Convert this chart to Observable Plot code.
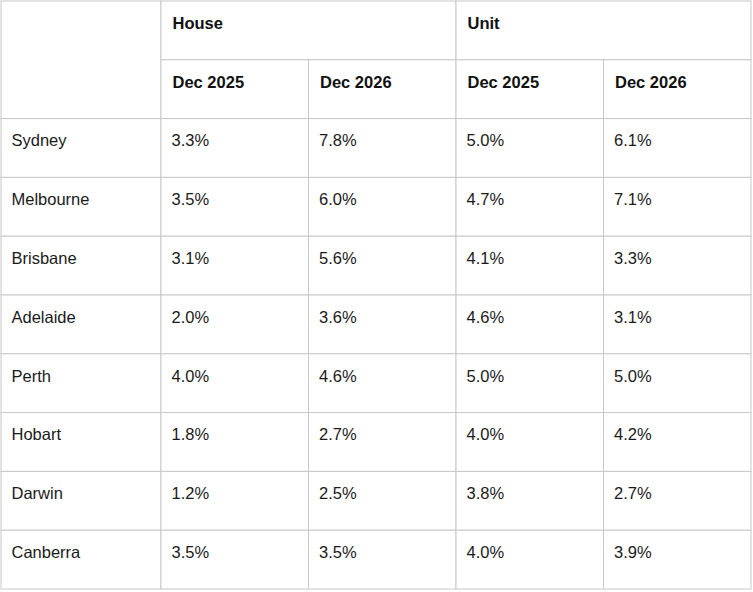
<!DOCTYPE html>
<html>
<head>
<meta charset="utf-8">
<script src="https://cdn.jsdelivr.net/npm/d3@7"></script>
<script src="https://cdn.jsdelivr.net/npm/@observablehq/plot@0.6"></script>
<style>
  html, body { margin: 0; padding: 0; background: #ffffff; }
  #chart svg { display: block; }
</style>
</head>
<body>
<div id="chart"></div>
<script>
const cities = ["Sydney", "Melbourne", "Brisbane", "Adelaide", "Perth", "Hobart", "Darwin", "Canberra"];
const groups = ["House", "Unit"];
const periods = ["Dec 2025", "Dec 2026"];
const house2025 = [3.3, 3.5, 3.1, 2.0, 4.0, 1.8, 1.2, 3.5];
const house2026 = [7.8, 6.0, 5.6, 3.6, 4.6, 2.7, 2.5, 3.5];
const unit2025 = [5.0, 4.7, 4.1, 4.6, 5.0, 4.0, 3.8, 4.0];
const unit2026 = [6.1, 7.1, 3.3, 3.1, 5.0, 4.2, 2.7, 3.9];

// Build table cells: column/row indices (grid units), with spans for merged headers
const cells = [];
cells.push({c0: 0, c1: 1, r0: 0, r1: 2, text: "", bold: false});
groups.forEach((g, gi) => {
  cells.push({c0: 1 + gi * 2, c1: 3 + gi * 2, r0: 0, r1: 1, text: g, bold: true});
  periods.forEach((p, pi) => {
    const c = 1 + gi * 2 + pi;
    cells.push({c0: c, c1: c + 1, r0: 1, r1: 2, text: p, bold: true});
  });
});
const series = [house2025, house2026, unit2025, unit2026];
cities.forEach((city, i) => {
  const r = 2 + i;
  cells.push({c0: 0, c1: 1, r0: r, r1: r + 1, text: city, bold: false});
  series.forEach((s, si) => {
    cells.push({c0: 1 + si, c1: 2 + si, r0: r, r1: r + 1, text: s[i].toFixed(1) + "%", bold: false});
  });
});

const font = "'Liberation Sans', Arial, sans-serif";
const plot = Plot.plot({
  width: 753,
  height: 592,
  margin: 0,
  style: {background: "#ffffff", fontFamily: font},
  x: {type: "linear", domain: [0, 1, 5], range: [1, 161, 751], axis: null},
  y: {type: "linear", domain: [0, 10], range: [1, 589], axis: null},
  marks: [
    Plot.rect(cells, {x1: "c0", x2: "c1", y1: "r0", y2: "r1", fill: "#ffffff", stroke: "#c8c8c8", strokeWidth: 1}),
    Plot.text(cells.filter(d => d.text && !d.bold), {
      x: "c0", y: "r0", text: "text", textAnchor: "start", lineAnchor: "middle",
      dx: 10, dy: 22, fontSize: 16.5, fill: "#1a1a1a"
    }),
    Plot.text(cells.filter(d => d.text && d.bold), {
      x: "c0", y: "r0", text: "text", textAnchor: "start", lineAnchor: "middle",
      dx: 11, dy: 22, fontSize: 16.5, fontWeight: "bold", fill: "#111111"
    })
  ]
});
document.getElementById("chart").appendChild(plot);
</script>
</body>
</html>
